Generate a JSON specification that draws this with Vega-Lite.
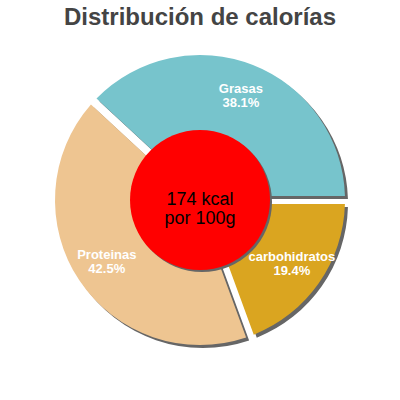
{
  "$schema": "https://vega.github.io/schema/vega-lite/v6.json",
  "width": 400,
  "height": 400,
  "autosize": "none",
  "padding": 0,
  "background": "white",
  "title": {
    "text": "Distribución de calorías",
    "font": "Liberation Sans",
    "fontSize": 24,
    "fontWeight": "bold",
    "color": "#444444",
    "anchor": "middle",
    "offset": -30
  },
  "config": {"view": {"stroke": null}},
  "datasets": {
    "macros": [
      {"nutriente": "Grasas", "fraccion": 0.381},
      {"nutriente": "carbohidratos", "fraccion": 0.194},
      {"nutriente": "Proteinas", "fraccion": 0.425}
    ],
    "energia": [{"texto": "174 kcal\npor 100g"}]
  },
  "layer": [
    {
      "data": {"name": "macros"},
      "encoding": {
        "theta": {
          "field": "fraccion",
          "type": "quantitative",
          "stack": true,
          "scale": {"range": [1.5708, 7.854]}
        },
        "order": {"field": "nutriente", "sort": "descending"}
      },
      "layer": [
        {
          "mark": {
            "type": "arc",
            "innerRadius": 60,
            "outerRadius": 145,
            "padAngle": 0.052,
            "xOffset": 3,
            "yOffset": 3,
            "color": "#666666"
          }
        },
        {
          "mark": {"type": "arc", "innerRadius": 60, "outerRadius": 145, "padAngle": 0.052},
          "encoding": {
            "color": {
              "field": "nutriente",
              "type": "nominal",
              "scale": {
                "domain": ["Grasas", "carbohidratos", "Proteinas"],
                "range": ["#77C4CC", "#DAA520", "#EEC591"]
              },
              "legend": null
            }
          }
        },
        {
          "transform": [
            {"calculate": "datum.nutriente + '\\n' + format(datum.fraccion, '.1%')", "as": "etiqueta"}
          ],
          "mark": {
            "type": "text",
            "radius": 112,
            "dy": -7,
            "font": "Liberation Sans",
            "fontSize": 13,
            "fontWeight": "bold",
            "lineBreak": "\n",
            "lineHeight": 14,
            "color": "white",
            "baseline": "middle"
          },
          "encoding": {"text": {"field": "etiqueta", "type": "nominal"}}
        }
      ]
    },
    {
      "data": {"name": "energia"},
      "layer": [
        {
          "mark": {
            "type": "arc",
            "theta": 0,
            "theta2": 6.2832,
            "outerRadius": 70,
            "xOffset": 2,
            "yOffset": 2,
            "color": "#666666"
          }
        },
        {
          "mark": {"type": "arc", "theta": 0, "theta2": 6.2832, "outerRadius": 70, "color": "#FF0000"}
        },
        {
          "mark": {
            "type": "text",
            "font": "Liberation Sans",
            "fontSize": 18,
            "lineBreak": "\n",
            "lineHeight": 19,
            "color": "black",
            "baseline": "middle"
          },
          "encoding": {"text": {"field": "texto", "type": "nominal"}}
        }
      ]
    }
  ]
}
